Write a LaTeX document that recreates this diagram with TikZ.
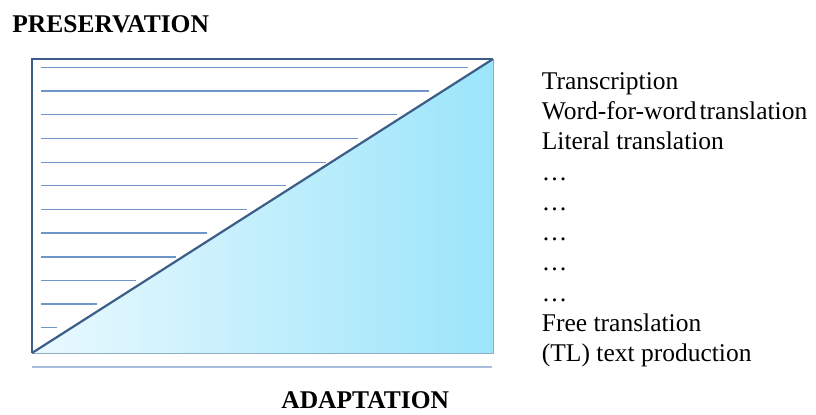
\documentclass[tikz,border=0pt]{standalone}
\usepackage{fontspec}
\setmainfont{Liberation Serif}
\definecolor{framec}{HTML}{3D5D89}
\definecolor{rulec}{HTML}{7095C9}
\definecolor{baselc}{HTML}{A9BDDC}
\definecolor{shadeL}{HTML}{EAF9FE}
\definecolor{shadeR}{HTML}{9BE5FA}
\definecolor{edgec}{HTML}{8FAFC4}
\begin{document}
\begin{tikzpicture}[x=1bp,y=-1bp,
  listtext/.style={anchor=base west,inner sep=0pt,font=\fontsize{25.6}{30}\selectfont},
  headtext/.style={anchor=base west,inner sep=0pt,font=\fontsize{25.6}{30}\selectfont\bfseries},
  ruleline/.style={rulec,line width=1.1bp}]
\useasboundingbox (0,0) rectangle (816,414);
% triangle
\fill[left color=shadeL,right color=shadeR] (32,353) -- (493,59) -- (493,353) -- cycle;
\draw[edgec,line width=1bp] (493,59) -- (493,353) -- (32,353);
% ruled lines
\foreach \yy/\xe in {67.3/468.3,91/429,114.7/397,138.7/357.7,162.3/325.7,185.7/286,209.7/247,233/207.3,257/175.7,280.3/136,304/96.7,327.7/57.3}
  \draw[ruleline] (41,\yy) -- (\xe,\yy);
% frame and hypotenuse
\draw[framec,line width=2.6bp,line join=miter] (32,353) -- (32,59) -- (493,59);
\draw[framec,line width=2.2bp] (32,353) -- (493,59);
% bottom line
\draw[baselc,line width=1.3bp] (32,367) -- (492,367);
% labels
\node[headtext] (pres) at (12.2,32.3) {PRESERVATION};
\node[headtext] (adap) at (281.2,408.5) {ADAPTATION};
\node[listtext] (l1) at (541.7,89.3) {Transcription};
\node[listtext] (l2) at (541.7,119.6) {Word-for-word\hspace{0.12em}translation};
\node[listtext] (l3) at (541.7,149.8) {Literal translation};
\node[listtext] (l4) at (541.7,180.1) {…};
\node[listtext] (l5) at (541.7,210.4) {…};
\node[listtext] (l6) at (541.7,240.7) {…};
\node[listtext] (l7) at (541.7,270.9) {…};
\node[listtext] (l8) at (541.7,301.2) {…};
\node[listtext] (l9) at (541.7,331.5) {Free translation};
\node[listtext] (l10) at (541.7,361.7) {(TL) text production};
\end{tikzpicture}
\end{document}
